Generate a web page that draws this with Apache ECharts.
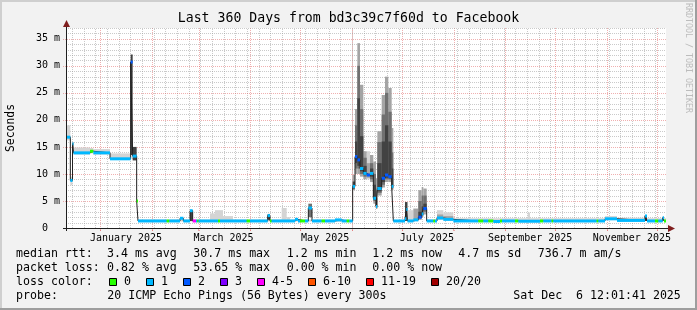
<!DOCTYPE html>
<html><head><meta charset="utf-8">
<script src="https://cdn.jsdelivr.net/npm/echarts@6/dist/echarts.min.js"></script>
<style>html,body{margin:0;padding:0;background:#f2f2f2}#c{width:697px;height:310px}</style>
</head><body><div id="c"></div>
<script>
// x values: days since start of range (Dec 11 2024 12:01), y values in milliseconds
const X_MAX = 360, Y_MAX = 37;
const monthStartDays = [20.5, 51.5, 79.5, 110.5, 140.5, 171.5, 201.5, 232.5, 263.5, 293.5, 324.5, 354.5];
const monthLabelDays = [36, 94.5, 155.5, 216.5, 278.5, 339.5];
const monthLabelNames = ['January 2025', 'March 2025', 'May 2025', 'July 2025', 'September 2025', 'November 2025'];
const yTickValues = [0, 5, 10, 15, 20, 25, 30, 35];
const lossLabels = ['0', '1', '2', '3', '4-5', '6-10', '11-19', '20/20'];
const lossColors = ['#26ff00', '#00b8ff', '#0059ff', '#7e00ff', '#ff00ff', '#ff5500', '#ff0000', '#a10000'];

// median rtt steps: [fromDay, toDay, ms, lossColorIndex]
const medianSegs = [
  [0, 2.6, 16.8, 1], [2.6, 3.9, 8.8, 1], [3.9, 4.5, 15.6, 1], [4.5, 14.4, 13.9, 1],
  [14.4, 16.4, 14.2, 0], [16.4, 26.4, 13.9, 1], [26.4, 38.8, 12.8, 1], [38.8, 40.0, 30.7, 2],
  [40.0, 42.4, 13.3, 1], [42.4, 43.2, 5.0, 0], [43.2, 60.4, 1.3, 1], [60.4, 62.0, 1.3, 0],
  [62.0, 68.4, 1.3, 1], [68.4, 70.4, 1.8, 1], [70.4, 74.4, 1.3, 1], [74.4, 76.0, 3.2, 1],
  [76.0, 78.0, 1.3, 4], [78.0, 78.8, 1.3, 1], [78.8, 79.6, 1.3, 0], [79.6, 91.2, 1.3, 1],
  [91.2, 92.4, 1.3, 0], [92.4, 108.4, 1.3, 1], [108.4, 110.4, 1.3, 0], [110.4, 121.0, 1.3, 1],
  [121.0, 122.4, 2.3, 1], [122.4, 123.4, 1.3, 0], [123.4, 137.4, 1.3, 1], [137.4, 139.2, 1.6, 1],
  [139.2, 140.4, 1.3, 1], [140.4, 143.4, 1.3, 0], [143.4, 145.4, 1.3, 1], [145.4, 147.6, 3.7, 1],
  [147.6, 153.4, 1.3, 1], [153.4, 155.4, 1.3, 0], [155.4, 161.4, 1.3, 1], [161.4, 165.4, 1.5, 1],
  [165.4, 168.4, 1.3, 1], [168.4, 170.0, 1.3, 0], [170.0, 172.0, 1.3, 1], [172.0, 173.4, 7.7, 1],
  [173.4, 174.8, 13.2, 2], [174.8, 176.4, 12.6, 2], [176.4, 178.4, 11.0, 1], [178.4, 180.4, 10.1, 1],
  [180.4, 182.4, 9.8, 2], [182.4, 184.4, 10.1, 1], [184.4, 186.0, 5.5, 1], [186.0, 186.8, 4.0, 1],
  [186.8, 189.4, 7.3, 1], [189.4, 191.4, 9.2, 2], [191.4, 193.4, 9.8, 2], [193.4, 195.4, 9.5, 2],
  [195.4, 196.4, 7.7, 1], [196.4, 203.4, 1.3, 1], [203.4, 204.2, 1.7, 1], [204.2, 204.9, 3.4, 1],
  [204.9, 208.4, 1.3, 1], [208.4, 211.4, 1.5, 1], [211.4, 213.4, 2.0, 2], [213.4, 214.4, 2.6, 1],
  [214.4, 216.4, 3.6, 2], [216.4, 220.4, 1.3, 1], [220.4, 221.4, 1.3, 0], [221.4, 222.6, 1.3, 1],
  [222.6, 226.4, 1.85, 1], [226.4, 232.4, 1.6, 1], [232.4, 247.4, 1.3, 1], [247.4, 250.4, 1.3, 0],
  [250.4, 253.4, 1.3, 1], [253.4, 256.4, 1.3, 0], [256.4, 260.4, 1.2, 1], [260.4, 261.6, 1.3, 0],
  [261.6, 269.4, 1.3, 1], [269.4, 271.4, 1.3, 0], [271.4, 284.4, 1.25, 1], [284.4, 286.4, 1.3, 0],
  [286.4, 291.4, 1.3, 1], [291.4, 292.4, 1.3, 0], [292.4, 318.4, 1.3, 1], [318.4, 319.4, 1.3, 0],
  [319.4, 323.4, 1.3, 1], [323.4, 330.6, 1.7, 1], [330.6, 347.4, 1.4, 1], [347.4, 348.6, 2.2, 1],
  [348.6, 353.4, 1.3, 1], [353.4, 355.4, 1.3, 0], [355.4, 358.0, 1.3, 1], [358.0, 358.8, 1.9, 1],
  [358.8, 360, 1.3, 0]
];

// smoke (ping spread): [fromDay, toDay, lowMs, highMs, shade 0=very light .. 3=dark]
const smokeSegs = [
  [0, 2.6, 16.2, 19.0, 0], [2.6, 3.9, 7.9, 9.5, 0], [3.9, 4.5, 14.0, 15.8, 2],
  [4.5, 14.4, 13.6, 14.9, 0], [14.4, 16.4, 13.8, 14.8, 0], [16.4, 26.4, 13.6, 14.6, 0],
  [26.4, 38.8, 12.6, 13.8, 0], [38.8, 40.0, 13.5, 32.1, 3], [40.0, 42.4, 12.5, 15.0, 3],
  [43.2, 170.0, 1.2, 1.55, 0], [68.4, 70.4, 1.3, 2.0, 0], [74.4, 76.0, 1.3, 3.3, 3],
  [86.4, 89.4, 1.3, 2.7, 0], [89.4, 94.2, 1.3, 3.3, 0], [94.2, 100.2, 1.3, 2.2, 0],
  [121.0, 122.4, 1.5, 2.6, 3], [129.4, 132.4, 1.3, 3.7, 0], [132.4, 134.4, 1.3, 2.0, 0],
  [145.4, 147.6, 2.0, 4.5, 2],
  [172.0, 173.4, 7.0, 9.8, 1], [172.0, 173.4, 7.3, 8.6, 3],
  [173.4, 174.8, 10.0, 22.0, 1], [173.4, 174.8, 11.0, 19.0, 2], [173.4, 174.8, 12.0, 16.0, 3],
  [174.8, 176.4, 10.0, 34.2, 1], [174.8, 176.4, 11.0, 30.0, 2], [174.8, 176.4, 11.5, 24.0, 3],
  [176.4, 178.4, 9.5, 26.5, 1], [176.4, 178.4, 10.0, 22.0, 2], [176.4, 178.4, 10.5, 17.0, 3],
  [178.4, 180.4, 9.0, 14.2, 1], [178.4, 180.4, 9.5, 13.0, 2], [178.4, 180.4, 9.8, 11.5, 3],
  [180.4, 182.4, 9.0, 14.2, 0], [180.4, 182.4, 9.3, 12.0, 1],
  [182.4, 184.4, 8.5, 13.5, 1], [182.4, 184.4, 9.0, 12.0, 2], [182.4, 184.4, 9.5, 11.0, 3],
  [184.4, 186.0, 4.5, 12.3, 1], [184.4, 186.0, 5.0, 10.0, 2], [184.4, 186.0, 5.2, 8.0, 3],
  [186.0, 186.8, 3.5, 9.2, 1], [186.0, 186.8, 3.8, 7.0, 2], [186.0, 186.8, 3.9, 5.5, 3],
  [186.8, 189.4, 6.0, 17.9, 1], [186.8, 189.4, 6.5, 15.9, 2], [186.8, 189.4, 6.8, 12.0, 3],
  [189.4, 191.4, 7.5, 24.6, 1], [189.4, 191.4, 8.0, 21.0, 2], [189.4, 191.4, 8.5, 16.0, 3],
  [191.4, 193.4, 8.5, 28.0, 1], [191.4, 193.4, 9.0, 25.0, 2], [191.4, 193.4, 9.3, 19.0, 3],
  [193.4, 195.4, 8.5, 25.9, 1], [193.4, 195.4, 9.0, 21.5, 2], [193.4, 195.4, 9.2, 16.0, 3],
  [195.4, 196.4, 7.0, 18.5, 1], [195.4, 196.4, 7.3, 14.0, 2], [195.4, 196.4, 7.5, 11.0, 3],
  [196.4, 203.4, 1.2, 1.5, 0], [203.4, 204.9, 1.3, 4.8, 3], [204.9, 208.4, 1.3, 3.3, 0],
  [208.4, 211.4, 1.3, 3.6, 1],
  [211.4, 213.4, 1.5, 7.0, 1], [211.4, 213.4, 1.8, 5.0, 2], [211.4, 213.4, 1.9, 3.0, 3],
  [213.4, 214.4, 2.0, 7.6, 1], [213.4, 214.4, 2.3, 6.0, 2], [213.4, 214.4, 2.4, 4.0, 3],
  [214.4, 216.4, 2.5, 7.3, 1], [214.4, 216.4, 3.0, 6.0, 2], [214.4, 216.4, 3.3, 4.5, 3],
  [216.4, 222.6, 1.2, 1.6, 0], [222.6, 226.4, 1.5, 3.3, 0], [222.6, 226.4, 1.7, 2.5, 1],
  [226.4, 232.4, 1.4, 2.9, 0], [226.4, 232.4, 1.5, 2.2, 1],
  [232.4, 323.4, 1.3, 1.8, 0], [277.0, 278.4, 1.3, 2.85, 0], [323.4, 330.6, 1.5, 2.2, 0],
  [330.6, 347.4, 1.3, 1.9, 0], [347.4, 348.6, 1.3, 2.4, 3], [348.6, 360, 1.3, 1.8, 0]
];

const statsRows = [
  ['median rtt:', '3.4 ms avg', '30.7 ms max', '1.2 ms min', '1.2 ms now', '4.7 ms sd', '736.7 m am/s'],
  ['packet loss:', '0.82 % avg', '53.65 % max', '0.00 % min', '0.00 % now']
];
const probeText = '20 ICMP Echo Pings (56 Bytes) every 300s';
const dateText = 'Sat Dec  6 12:01:41 2025';
const titleText = 'Last 360 Days from bd3c39c7f60d to Facebook';

// ---------- styling / layout ----------
const FONT = '"DejaVu Sans Mono", monospace';
const MAJOR = 'rgba(222,79,79,0.45)', MINOR = 'rgba(150,150,150,0.5)';
const SHADES = ['#d4d4d4', '#a4a4a4', '#707070', '#424242'];
const G = {left: 66, top: 28, width: 600, height: 200};

const weekDays = [];
for (let d = 3.5; d < X_MAX; d += 7) weekDays.push(d);
const vGrid = weekDays.map(v => [v, 0, 0]).concat(monthStartDays.map(v => [v, 0, 1]));
const hGrid = [];
for (let v = 1; v <= Y_MAX; v++) hGrid.push([0, v, v % 5 === 0 ? 1 : 0]);
hGrid.sort((a, b) => a[2] - b[2]);

const medianLine = [];
medianSegs.forEach(s => { medianLine.push([s[0], s[2]]); medianLine.push([s[1], s[2]]); });
const smokeSorted = smokeSegs.slice().sort((a, b) => a[4] - b[4]);

function gridItem(vertical) {
  return function (params, api) {
    const major = api.value(2);
    let shape;
    if (vertical) {
      const p0 = api.coord([api.value(0), 0]), p1 = api.coord([api.value(0), Y_MAX]);
      const x = Math.round(p0[0]) + 0.5;
      shape = {x1: x, y1: p0[1] + (major ? 3 : 0), x2: x, y2: p1[1]};
    } else {
      const p0 = api.coord([0, api.value(1)]), p1 = api.coord([X_MAX, api.value(1)]);
      const y = Math.round(p0[1]) + 0.5;
      shape = {x1: p0[0] - (major ? 3 : 0), y1: y, x2: p1[0], y2: y};
    }
    return {type: 'line', shape: shape, style: {stroke: major ? MAJOR : MINOR, lineWidth: 1, lineDash: [1, 1]}};
  };
}

const graphics = [];
graphics.push({type: 'rect', shape: {x: 0, y: 0, width: 697, height: 2}, style: {fill: '#cfcfcf'}, silent: true});
graphics.push({type: 'rect', shape: {x: 0, y: 0, width: 2, height: 310}, style: {fill: '#cfcfcf'}, silent: true});
graphics.push({type: 'rect', shape: {x: 0, y: 308, width: 697, height: 2}, style: {fill: '#9e9e9e'}, silent: true});
graphics.push({type: 'rect', shape: {x: 695, y: 0, width: 2, height: 310}, style: {fill: '#9e9e9e'}, silent: true});
graphics.push({type: 'text', x: 348.5, y: 19, style: {text: titleText, font: '13.2px ' + FONT, fill: '#000', align: 'center', verticalAlign: 'middle'}});
graphics.push({type: 'text', x: 688, y: 3, rotation: -Math.PI / 2, style: {text: 'RRDTOOL / TOBI OETIKER', font: '8.3px ' + FONT, fill: '#bcbcbc', align: 'left', verticalAlign: 'middle'}});
graphics.push({type: 'text', x: 11, y: 128, rotation: Math.PI / 2, style: {text: 'Seconds', font: '11.4px ' + FONT, fill: '#000', align: 'center', verticalAlign: 'middle'}});
graphics.push({type: 'line', shape: {x1: 63, y1: 228.5, x2: 669, y2: 228.5}, style: {stroke: '#1f1f1f', lineWidth: 1}, z: 100});
graphics.push({type: 'line', shape: {x1: 66.5, y1: 231, x2: 66.5, y2: 25}, style: {stroke: '#1f1f1f', lineWidth: 1}, z: 100});
graphics.push({type: 'polygon', shape: {points: [[668, 225], [675, 228.5], [668, 232]]}, style: {fill: '#801f1f'}, z: 100});
graphics.push({type: 'polygon', shape: {points: [[63, 27], [66.5, 20], [70, 27]]}, style: {fill: '#801f1f'}, z: 100});
const colX = [16, 107, 193.3, 286.7, 372.3, 458.3, 537.7];
const rowY = [254.3, 268.3, 282.3, 296.3];
const LF = '11.6px ' + FONT;
statsRows.forEach((row, r) => row.forEach((t, i) => {
  graphics.push({type: 'text', x: colX[i], y: rowY[r], style: {text: t, font: LF, fill: '#000', align: 'left', verticalAlign: 'middle'}});
}));
graphics.push({type: 'text', x: 16, y: rowY[2], style: {text: 'loss color:', font: LF, fill: '#000', align: 'left', verticalAlign: 'middle'}});
let bx = 108.7;
lossLabels.forEach((lab, i) => {
  graphics.push({type: 'rect', shape: {x: Math.round(bx) + 0.5, y: 278.5, width: 7, height: 7}, style: {fill: lossColors[i], stroke: '#000', lineWidth: 1}});
  const lx = bx + 15.3;
  graphics.push({type: 'text', x: lx, y: rowY[2], style: {text: lab, font: LF, fill: '#000', align: 'left', verticalAlign: 'middle'}});
  bx = lx + lab.length * 7 + 14.7;
});
graphics.push({type: 'text', x: 16, y: rowY[3], style: {text: 'probe:', font: LF, fill: '#000', align: 'left', verticalAlign: 'middle'}});
graphics.push({type: 'text', x: 107.3, y: rowY[3], style: {text: probeText, font: LF, fill: '#000', align: 'left', verticalAlign: 'middle'}});
graphics.push({type: 'text', x: 513.3, y: rowY[3], style: {text: dateText, font: LF, fill: '#000', align: 'left', verticalAlign: 'middle'}});

const chart = echarts.init(document.getElementById('c'), null, {renderer: 'canvas'});
chart.setOption({
  backgroundColor: '#f2f2f2',
  animation: false,
  grid: Object.assign({show: true, backgroundColor: '#ffffff', borderWidth: 0, containLabel: false}, G),
  xAxis: {
    type: 'value', min: 0, max: X_MAX,
    axisLine: {show: false},
    splitLine: {show: false},
    axisTick: {show: true, customValues: monthStartDays, length: 3, lineStyle: {color: MAJOR}},
    axisLabel: {
      customValues: monthLabelDays, margin: 5, color: '#000', fontFamily: 'DejaVu Sans Mono', fontSize: 10,
      formatter: v => { const i = monthLabelDays.indexOf(v); return i >= 0 ? monthLabelNames[i] : ''; }
    }
  },
  yAxis: {
    type: 'value', min: 0, max: Y_MAX,
    axisLine: {show: false},
    splitLine: {show: false},
    axisTick: {show: false},
    axisLabel: {
      customValues: yTickValues, margin: 6, color: '#000', fontFamily: 'DejaVu Sans Mono', fontSize: 10,
      formatter: v => v === 0 ? '0  ' : v + ' m'
    }
  },
  series: [
    {type: 'custom', name: 'vgrid', z: 1, silent: true, clip: false, data: vGrid, renderItem: gridItem(true)},
    {type: 'custom', name: 'hgrid', z: 1, silent: true, clip: false, data: hGrid, renderItem: gridItem(false)},
    {
      type: 'custom', name: 'smoke', z: 2, silent: true, data: smokeSorted,
      encode: {x: [0, 1], y: [2, 3]},
      renderItem: (params, api) => {
        const a = api.coord([api.value(0), api.value(3)]);
        const b = api.coord([api.value(1), api.value(2)]);
        return {type: 'rect', shape: {x: a[0], y: a[1], width: Math.max(b[0] - a[0], 1), height: Math.max(b[1] - a[1], 1)},
          style: {fill: SHADES[api.value(4)]}};
      }
    },
    {
      type: 'line', name: 'median', z: 3, silent: true, data: medianLine, showSymbol: false, symbol: 'none',
      lineStyle: {color: '#202020', width: 1}
    },
    {
      type: 'custom', name: 'loss', z: 4, silent: true, data: medianSegs,
      encode: {x: [0, 1], y: 2},
      renderItem: (params, api) => {
        const a = api.coord([api.value(0), api.value(2)]);
        const b = api.coord([api.value(1), api.value(2)]);
        return {type: 'rect', shape: {x: a[0], y: a[1] - 1.5, width: Math.max(b[0] - a[0], 1), height: 3},
          style: {fill: lossColors[api.value(3)]}};
      }
    }
  ],
  graphic: graphics
});
</script></body></html>
